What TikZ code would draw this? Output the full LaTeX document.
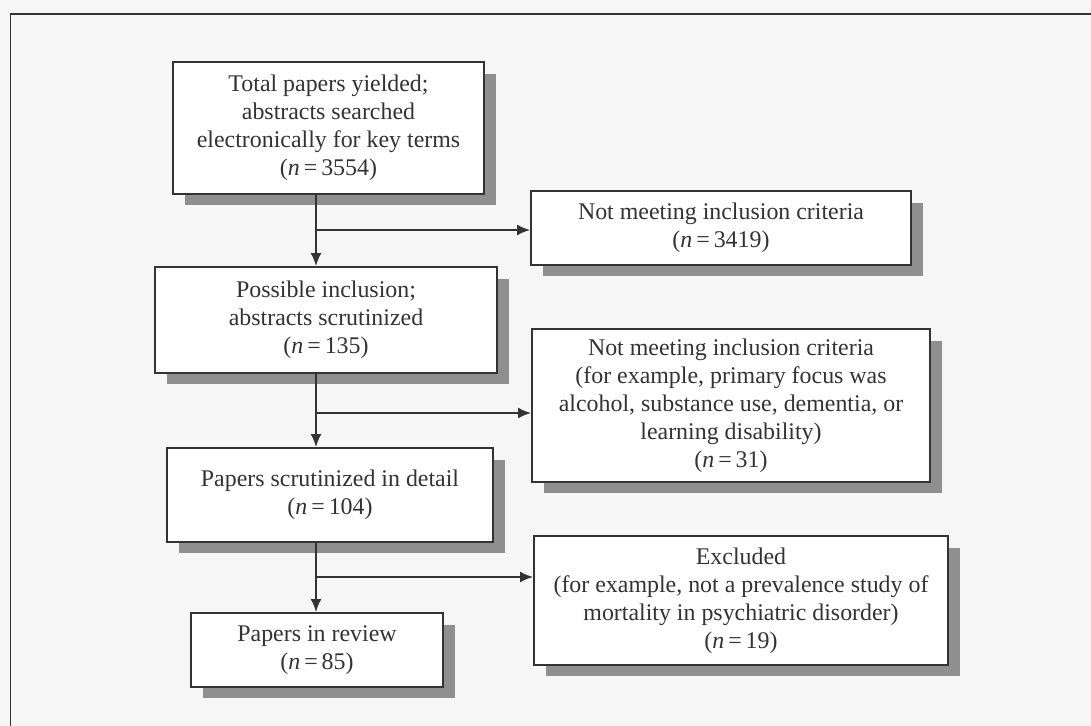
\documentclass[tikz,border=0pt]{standalone}
\usepackage{fontspec}
\setmainfont{Liberation Serif}
\usetikzlibrary{shadows,arrows.meta}
\definecolor{inkgray}{gray}{0.2}
\definecolor{shadowgray}{gray}{0.56}
\definecolor{pagegray}{gray}{0.965}
\newcommand{\nval}[1]{(\textit{n}\,=\,#1)}
\tikzset{
  box/.style={draw=inkgray, line width=1.1pt, fill=white, text=inkgray,
    align=center, inner sep=0pt,
    font=\fontsize{13.6}{15.9}\selectfont,
    drop shadow={shadow xshift=0.24cm, shadow yshift=-0.23cm,
      fill=shadowgray, opacity=1}},
  link/.style={draw=inkgray, line width=1.1pt},
}
\begin{document}
\begin{tikzpicture}[x=0.02cm, y=-0.02cm]

\fill [pagegray] (0,0) rectangle (1091,726);
\useasboundingbox (0,0) rectangle (1091,726);
\draw [link, line width=0.9pt] (10.5,726) |- (1091,14);

\node [box, minimum width=6.22cm, minimum height=2.64cm] (total) at (328.5,128)
  {Total papers yielded;\\ abstracts searched\\ electronically for key terms\\ \nval{3554}};
\node [box, minimum width=7.6cm, minimum height=1.48cm] (excl1) at (721,228)
  {Not meeting inclusion criteria\\ \nval{3419}};
\node [box, minimum width=6.84cm, minimum height=2.12cm] (possible) at (326,320)
  {Possible inclusion;\\ abstracts scrutinized\\ \nval{135}};
\node [box, minimum width=7.96cm, minimum height=3.06cm] (excl2) at (731,405.5)
  {Not meeting inclusion criteria\\ (for example, primary focus was\\ alcohol, substance use, dementia, or\\ learning disability)\\ \nval{31}};
\node [box, minimum width=6.52cm, minimum height=1.88cm] (detail) at (330,495)
  {Papers scrutinized in detail\\ \nval{104}};
\node [box, minimum width=8.28cm, minimum height=2.58cm] (excl3) at (741,600.5)
  {Excluded\\ (for example, not a prevalence study of\\ mortality in psychiatric disorder)\\ \nval{19}};
\node [box, minimum width=5.04cm, minimum height=1.48cm] (review) at (317,650)
  {Papers in review\\ \nval{85}};

\coordinate (j1) at (316,230);
\coordinate (j2) at (316,413);
\coordinate (j3) at (316,577);

\begin{scope}[link, -{Latex[length=2.6mm, width=2.2mm]}]
\draw (total.south -| j1) -- (possible.north -| j1);
\draw (possible.south -| j2) -- (detail.north -| j2);
\draw (detail.south -| j3) -- (review.north -| j3);
\draw (j1) -- (j1 -| excl1.west);
\draw (j2) -- (j2 -| excl2.west);
\draw (j3) -- (j3 -| excl3.west);
\end{scope}

\end{tikzpicture}
\end{document}
